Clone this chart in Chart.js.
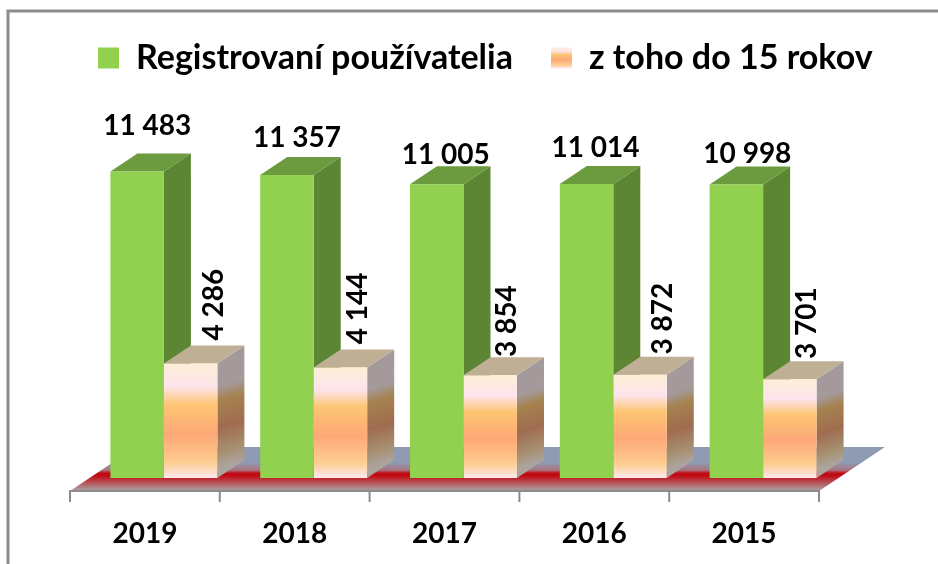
<!DOCTYPE html>
<html>
<head>
<meta charset="utf-8">
<title>Registrovaní používatelia</title>
<script src="https://cdn.jsdelivr.net/npm/chart.js@4"></script>
<style>
  html, body { margin: 0; padding: 0; background: #fff; }
  canvas { display: block; }
</style>
</head>
<body>
<canvas id="chart" width="938" height="564"></canvas>
<script>
// values
const years = ['2019', '2018', '2017', '2016', '2015'];
const registered = [11483, 11357, 11005, 11014, 10998];
const under15 = [4286, 4144, 3854, 3872, 3701];
const seriesNames = ['Registrovaní používatelia', 'z toho do 15 rokov'];

// the labels in the original were dragged around by hand, so they need their own nudges
const regLabelDx = [10, 10, 9, 9, 11];
const regLabelDy = [-46, -37, -29, -36, -31];
const subLabelDx = [23, 18, 17, 23, 17];
const subLabelDy = [-59, -59, -54, -56, -56];

const BAR_DX = 27, BAR_DY = 18;      // fake 3d depth of a bar
const FLOOR_DX = 66, FLOOR_DY = 44;  // depth of the floor
const AXIS_DROP = 13, AXIS_SHIFT = 19;
const FONT = 'Lato, Carlito, sans-serif';

const GREEN = '#92d050', GREEN_SIDE = '#5c8634', GREEN_TOP = '#6c9a3e', PEACH_TOP = '#bfb095';

function peachFront(ctx, y0, y1) {
  const g = ctx.createLinearGradient(0, y0, 0, y1);
  g.addColorStop(0, '#feeed6');
  g.addColorStop(0.2, '#fde4ec');
  g.addColorStop(0.36, '#fdc572');
  g.addColorStop(0.62, '#fda877');
  g.addColorStop(0.86, '#fdcd90');
  g.addColorStop(1, '#fee9ec');
  return g;
}

function peachSide(ctx, x, y0, y1) {
  const g = ctx.createLinearGradient(x, y0, x + BAR_DX, y1 - BAR_DY);
  g.addColorStop(0, '#a49a9c');
  g.addColorStop(0.22, '#a49a9c');
  g.addColorStop(0.36, '#a5824f');
  g.addColorStop(0.62, '#a06c50');
  g.addColorStop(0.86, '#a69070');
  g.addColorStop(1, '#aca39c');
  return g;
}

function poly(ctx, pts, fill) {
  ctx.beginPath();
  pts.forEach((p, i) => i ? ctx.lineTo(p[0], p[1]) : ctx.moveTo(p[0], p[1]));
  ctx.closePath();
  ctx.fillStyle = fill;
  ctx.fill();
}

function spaced(v) {
  return String(v).replace(/\B(?=(\d{3})+$)/g, ' ');
}

const moveLegend = {
  id: 'moveLegend',
  afterLayout(chart) {
    chart.legend.left = 60;
  }
};

const frame3d = {
  id: 'frame3d',
  beforeDraw(chart) {
    const ctx = chart.ctx;
    ctx.save();
    ctx.strokeStyle = '#8c8c8c';
    ctx.lineWidth = 3;
    ctx.beginPath();
    ctx.moveTo(8, 564);
    ctx.lineTo(8, 11);
    ctx.lineTo(938, 11);
    ctx.stroke();
    ctx.restore();
  },
  beforeDatasetsDraw(chart) {
    const ctx = chart.ctx;
    const area = chart.chartArea;
    const axisY = area.bottom + AXIS_DROP;
    const left = area.left - AXIS_SHIFT, right = area.right - AXIS_SHIFT;
    ctx.save();

    // floor
    const h = FLOOR_DY + AXIS_DROP;
    const floor = ctx.createLinearGradient(0, axisY - FLOOR_DY, 0, axisY);
    floor.addColorStop(0, '#8e9bb3');
    floor.addColorStop(20 / h * 1, '#8e9bb3');
    floor.addColorStop(30 / h, '#a9737f');
    floor.addColorStop(34 / h, '#c00a14');
    floor.addColorStop(37 / h, '#c00a14');
    floor.addColorStop(1, '#a8a8a8');
    poly(ctx, [[left, axisY], [right, axisY], [right + FLOOR_DX, axisY - FLOOR_DY], [left + FLOOR_DX, axisY - FLOOR_DY]], floor);

    // axis line and ticks
    ctx.strokeStyle = '#8c8c8c';
    ctx.lineWidth = 2;
    ctx.beginPath();
    ctx.moveTo(left, axisY);
    ctx.lineTo(right, axisY);
    const step = (right - left) / years.length;
    for (let i = 0; i <= years.length; i++) {
      ctx.moveTo(left + step * i, axisY - 1);
      ctx.lineTo(left + step * i, axisY + 11);
    }
    ctx.stroke();

    // sides and tops of the bars, green first so the peach tops sit over them
    chart.getDatasetMeta(0).data.forEach(b => {
      const l = b.x - b.width / 2, r = b.x + b.width / 2;
      poly(ctx, [[r, b.y], [r + BAR_DX, b.y - BAR_DY], [r + BAR_DX, b.base - BAR_DY], [r, b.base]], GREEN_SIDE);
      poly(ctx, [[l, b.y], [l + BAR_DX, b.y - BAR_DY], [r + BAR_DX, b.y - BAR_DY], [r, b.y]], GREEN_TOP);
    });
    chart.getDatasetMeta(1).data.forEach(b => {
      const l = b.x - b.width / 2, r = b.x + b.width / 2;
      poly(ctx, [[r, b.y], [r + BAR_DX, b.y - BAR_DY], [r + BAR_DX, b.base - BAR_DY], [r, b.base]], peachSide(ctx, r, b.y, b.base));
      poly(ctx, [[l, b.y], [l + BAR_DX, b.y - BAR_DY], [r + BAR_DX, b.y - BAR_DY], [r, b.y]], PEACH_TOP);
    });
    ctx.restore();
  },
  afterDatasetsDraw(chart) {
    const ctx = chart.ctx;
    ctx.save();
    ctx.fillStyle = '#000';
    ctx.font = 'bold 28px ' + FONT;
    ctx.textAlign = 'center';
    ctx.textBaseline = 'middle';
    chart.getDatasetMeta(0).data.forEach((b, i) => {
      ctx.fillText(spaced(registered[i]), b.x + regLabelDx[i], b.y + regLabelDy[i]);
    });
    chart.getDatasetMeta(1).data.forEach((b, i) => {
      ctx.save();
      ctx.translate(b.x + subLabelDx[i], b.y + subLabelDy[i]);
      ctx.rotate(-Math.PI / 2);
      ctx.fillText(spaced(under15[i]), 0, 0);
      ctx.restore();
    });
    ctx.restore();
  }
};

new Chart(document.getElementById('chart'), {
  type: 'bar',
  data: {
    labels: years,
    datasets: [
      { label: seriesNames[0], data: registered, backgroundColor: GREEN, borderWidth: 0 },
      {
        label: seriesNames[1],
        data: under15,
        borderWidth: 0,
        backgroundColor(c) {
          const chart = c.chart;
          if (c.type !== 'data' || !chart.scales.y) return '#fdc572';
          return peachFront(chart.ctx, chart.scales.y.getPixelForValue(c.raw), chart.scales.y.getPixelForValue(0));
        }
      }
    ]
  },
  plugins: [moveLegend, frame3d],
  options: {
    responsive: false,
    animation: false,
    layout: { padding: { left: 0, right: 0, top: 3, bottom: 0 } },
    datasets: { bar: { categoryPercentage: 0.714, barPercentage: 1 } },
    scales: {
      x: {
        grid: { display: false },
        border: { display: false },
        ticks: {
          labelOffset: -AXIS_SHIFT,
          padding: 31,
          color: '#000',
          font: { family: FONT, size: 28, weight: 'bold' },
          maxRotation: 0
        },
        afterFit(s) { s.height = 86; }
      },
      // both value axes are invisible, they only hold the plot in place
      y: {
        min: 0, max: 14726,
        grid: { display: false },
        border: { display: false },
        ticks: { display: false },
        afterFit(s) { s.width = 89; }
      },
      spacer: {
        type: 'linear',
        position: 'right',
        grid: { display: false },
        border: { display: false },
        ticks: { display: false },
        afterFit(s) { s.width = 100; }
      }
    },
    plugins: {
      tooltip: { enabled: false },
      legend: {
        position: 'top',
        align: 'start',
        labels: {
          boxWidth: 21,
          boxHeight: 21,
          padding: 38,
          color: '#000',
          font: { family: FONT, size: 34, weight: 'bold' },
          generateLabels(chart) {
            return [
              { text: seriesNames[0], fillStyle: GREEN, lineWidth: 0, strokeStyle: 'transparent', datasetIndex: 0 },
              { text: seriesNames[1], fillStyle: peachFront(chart.ctx, 47, 68), lineWidth: 0, strokeStyle: 'transparent', datasetIndex: 1 }
            ];
          }
        }
      }
    }
  }
});
</script>
</body>
</html>
